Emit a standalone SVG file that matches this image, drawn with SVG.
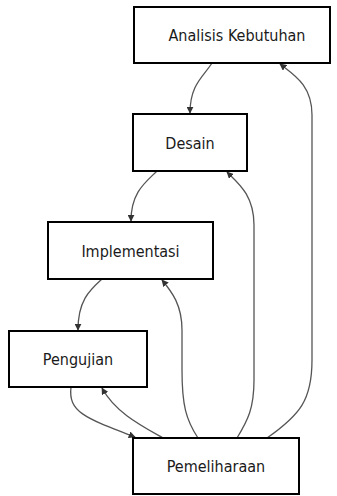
<svg xmlns="http://www.w3.org/2000/svg" width="337" height="496" viewBox="0 0 337 496">
<style>
.n rect{fill:#fff;stroke:#000;stroke-width:2}
.n text{font-family:"DejaVu Sans Condensed","DejaVu Sans",sans-serif;font-size:16px;fill:#1a1a1a;text-anchor:middle;dominant-baseline:central}
.e path{fill:none;stroke:#555;stroke-width:1.3;marker-end:url(#arr)}
</style>
<defs>
<marker id="arr" viewBox="0 0 10 10" refX="9" refY="5" markerWidth="7" markerHeight="7" orient="auto" markerUnits="userSpaceOnUse">
<path d="M0,0 L10,5 L0,10 z" fill="#333"/>
</marker>
</defs>
<g class="e">
<path d="M212,63 C204,76 190,84 190,113"/>
<path d="M157,171 C146,182 131,192 131,221"/>
<path d="M102,279 C90,290 78,300 78,330"/>
<path d="M71,387 C68,412 85,418 135,437"/>
<path d="M163,438 C140,425 115,412 102,388"/>
<path d="M198,438 C186,420 182,405 182,370 L182,330 C182,305 172,292 162,280"/>
<path d="M237,438 C248,420 254,408 254,380 L254,225 C254,195 238,183 227,172"/>
<path d="M267,438 C300,415 312,400 312,360 L312,115 C312,85 294,75 280,64"/>
</g>
<g id="analisis" class="n"><rect x="134" y="7" width="196" height="56"/><text x="237" y="35.5">Analisis Kebutuhan</text></g>
<g id="desain" class="n"><rect x="133" y="114" width="114" height="57"/><text x="190" y="143">Desain</text></g>
<g id="implementasi" class="n"><rect x="48" y="222" width="165" height="57"/><text x="130.5" y="251">Implementasi</text></g>
<g id="pengujian" class="n"><rect x="9" y="331" width="138" height="56"/><text x="78" y="359.5">Pengujian</text></g>
<g id="pemeliharaan" class="n"><rect x="133" y="438" width="166" height="56"/><text x="216" y="466.5">Pemeliharaan</text></g>
</svg>
